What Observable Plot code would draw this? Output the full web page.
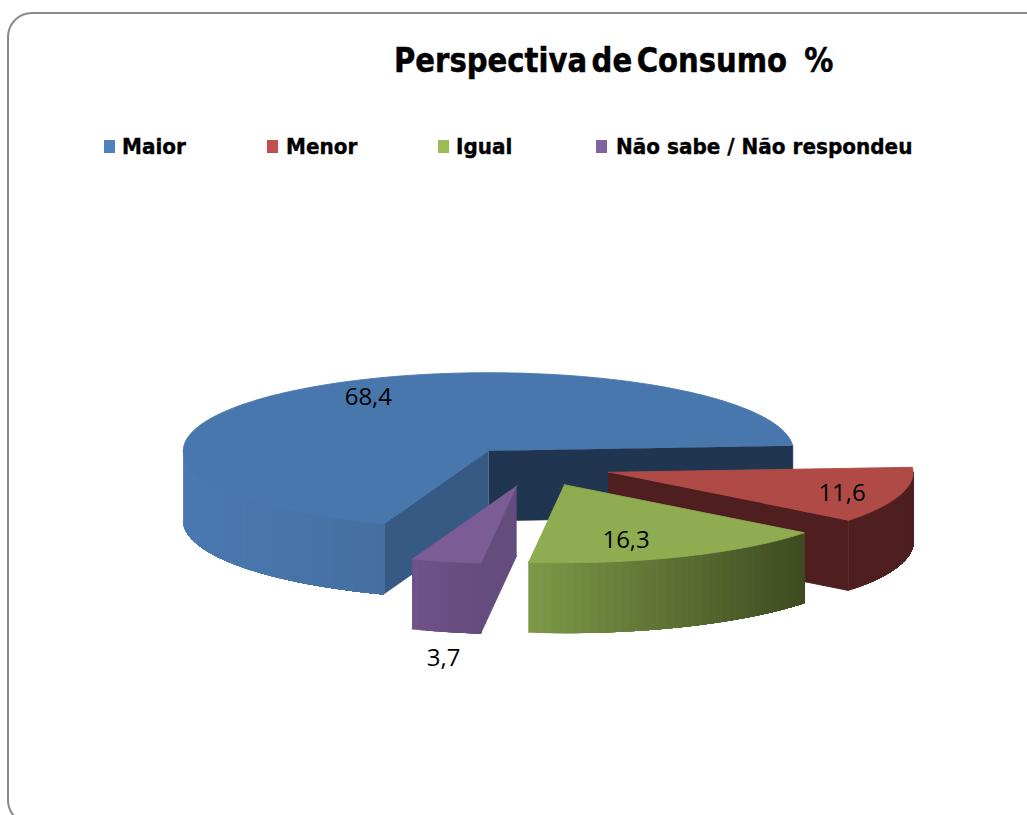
<!DOCTYPE html>
<html><head><meta charset="utf-8">
<script src="https://cdn.jsdelivr.net/npm/d3@7"></script>
<script src="https://cdn.jsdelivr.net/npm/@observablehq/plot@0.6"></script>
<style>
html,body{margin:0;padding:0;background:#fff;overflow:hidden}
#page{position:relative;width:1027px;height:815px;overflow:hidden}
#frame{position:absolute;left:7px;top:12px;width:1100px;height:809px;border:2px solid #8a8a8a;border-radius:25px}
#title{position:absolute;left:394px;top:42px;font:bold 33px "DejaVu Sans";white-space:pre;color:#000;line-height:38px;transform:scaleX(.882);transform-origin:0 0;-webkit-text-stroke:.5px #000}
#title .w{word-spacing:-6.4px}
#title .u{word-spacing:-1.7px}
#legend span{position:absolute;top:134px;font:bold 22px "DejaVu Sans";color:#000;white-space:pre;line-height:26px;transform:scaleX(.91);transform-origin:0 0;-webkit-text-stroke:.4px #000}
#legend i{position:absolute;top:140px;width:11px;height:13px}
#chart{position:absolute;left:0;top:170px}
</style></head><body>
<div id="page"><div id="frame"></div><div id="title"><span class="w"></span><span class="u"></span></div><div id="legend"></div><div id="chart"></div></div>
<script>
const titleMain = "Perspectiva de Consumo", titleUnit = "  %";
const categories = ["Maior","Menor","Igual","Não sabe / Não respondeu"];
const values = [68.4,11.6,16.3,3.7];
const labels = ["68,4","11,6","16,3","3,7"];
const legendColors = ["#4f81bd","#c0504d","#9bbb59","#8064a2"];
const topColors = ["#4877ae","#b04a47","#8fac51","#7b5c95"];
const wallLeft = ["#4a79b1","#4f1f1f","#7c9847","#6e5288"];
const wallRight = ["#456f9f","#4f1f1f","#3e4a20","#654b7e"];
const innerColors = ["#1f3550","#365a84","#4f1f1f","#654c7e"];
// Layout of the projected pie, in page pixels
const cx=534, cy=466, rx=305, ry=78, explode=77, depth=70, startDeg=110.06;
const labelOffset = [[-120,-53],[234,21],[62,56],[-73,173]];
const legendText=[122,286,456,616], legendMark=[104,267,438,596];

const rad=d=>d*Math.PI/180;
let acc=startDeg;
const slices=values.map((v,i)=>{
  const a0=acc,a1=acc+v*3.6;acc=a1;const m=(a0+a1)/2;
  return {i,a0,a1,ox:cx+explode*Math.cos(rad(m)),oy:cy+explode*ry/rx*Math.sin(rad(m))};
});
const rim=(s,a)=>[s.ox+rx*Math.cos(rad(a)),s.oy+ry*Math.sin(rad(a))];
const rows=[];let id=0;
const poly=(pts,color)=>{id++;pts.forEach(p=>rows.push({x:p[0],y:p[1],id,color}));};
const arc=(s,a,b)=>{const n=Math.max(2,Math.ceil(Math.abs(b-a)/1.5));return d3.range(n+1).map(k=>rim(s,a+(b-a)*k/n));};
const innerWall=(s,a,color)=>{const p=rim(s,a);poly([[s.ox,s.oy],p,[p[0],p[1]+depth],[s.ox,s.oy+depth]],color);};
// Outer wall: painted left to right, each step covering what is still to its right
const outerWall=(s,a,b)=>{
  const raw=arc(s,a,b);
  const pts=raw[0][0]<raw[raw.length-1][0]?raw:raw.slice().reverse();
  const x0=pts[0][0],x1=pts[pts.length-1][0],mix=d3.interpolateRgb(wallLeft[s.i],wallRight[s.i]);
  pts.slice(0,-1).forEach((p,k)=>{
    const rest=pts.slice(k);
    poly([...rest,...rest.slice().reverse().map(q=>[q[0],q[1]+depth])],mix((p[0]-x0)/(x1-x0)));
  });
};
const topFace=s=>poly([[s.ox,s.oy],...arc(s,s.a0,s.a1)],topColors[s.i]);
const [blue,red,green,purple]=slices;
innerWall(blue,blue.a1,innerColors[0]);
innerWall(blue,blue.a0,innerColors[1]);
outerWall(blue,blue.a0,180);
topFace(blue);
innerWall(red,red.a1,innerColors[2]);
outerWall(red,360,red.a1);
topFace(red);
outerWall(green,green.a0,green.a1);
topFace(green);
innerWall(purple,purple.a0,innerColors[3]);
outerWall(purple,purple.a0,purple.a1);
topFace(purple);

const labelRows=slices.map(s=>({x:s.ox+labelOffset[s.i][0],y:s.oy+labelOffset[s.i][1],t:labels[s.i]}));

const plot=Plot.plot({
  width:1027,height:645,margin:0,
  x:{domain:[0,1027],range:[0,1027],axis:null},
  y:{domain:[170,815],range:[0,645],axis:null},
  color:{type:"identity"},
  marks:[
    Plot.line(rows,{x:"x",y:"y",z:"id",fill:"color",stroke:"color",strokeWidth:0.9}),
    Plot.text(labelRows,{x:"x",y:"y",text:"t",fontSize:24,fontFamily:"Open Sans",fill:"#000",textAnchor:"middle",lineAnchor:"middle"})
  ]
});
plot.style.background="transparent";
document.getElementById("chart").append(plot);
const tp=document.getElementById("title").children;
tp[0].textContent=titleMain;tp[1].textContent=titleUnit;
const lg=document.getElementById("legend");
categories.forEach((c,i)=>{
  const m=document.createElement("i");m.style.left=legendMark[i]+"px";m.style.background=legendColors[i];lg.append(m);
  const t=document.createElement("span");t.style.left=legendText[i]+"px";t.textContent=c;lg.append(t);
});
</script></body></html>
